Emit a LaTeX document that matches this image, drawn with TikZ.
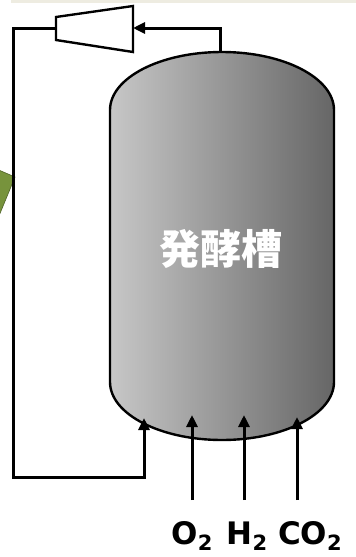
\documentclass[tikz,border=0pt]{standalone}
\usepackage{fontspec}
\newfontfamily\cjk{Noto Sans CJK JP}
\newfontfamily\gasfont{DejaVu Sans}
\usetikzlibrary{arrows.meta}
\definecolor{band}{HTML}{EEECE1}
\definecolor{leaf}{HTML}{77933C}
\definecolor{leafedge}{HTML}{4F6228}
\newcommand\gas[1]{#1\raisebox{-0.22em}{\fontsize{21}{21}\selectfont 2}}

\begin{document}
\begin{tikzpicture}
    [x=1pt,y=-1pt,
     pipe/.style={line width=3pt},
     feed/.style={pipe,-{Triangle[length=12pt,width=11pt]}},
     gaslabel/.style={anchor=base,inner sep=1pt,font=\gasfont\bfseries\fontsize{31}{31}\selectfont}]
\useasboundingbox (0,0) rectangle (356,557);
\clip (0,0) rectangle (356,557);
\fill [band] (11,0) rectangle (356,3);
\filldraw [fill=leaf,draw=leafedge,line width=0.6pt]
    (-6,168) -- (15,177) -- (-6,228) -- cycle;

% fermenter
\shadedraw
    [left color=black!22,right color=black!60,line width=2.4pt]
    (110,382) -- (110,110)
    arc [start angle=180,end angle=360,x radius=112,y radius=58]
    -- (334,382)
    arc [start angle=0,end angle=180,x radius=112,y radius=58]
    -- cycle;
\path
    (221,249) node [text=white,font=\cjk\bfseries\fontsize{41}{41}\selectfont] (tank) {発酵槽}
    (220,52) coordinate (tank top)
    (144,418) coordinate (return)
    (192,415) coordinate (o2 in)
    (244,415) coordinate (h2 in)
    (297,417) coordinate (co2 in);

% compressor
\draw [line width=2.4pt]
    (56,17) -- (133,6) -- (133,52) -- (56,40) -- cycle;
\path
    (56,28) coordinate (comp in)
    (133,28) coordinate (comp out);

% gas loop
\draw [feed] (tank top) |- (comp out);
\draw [feed] (comp in) -- (13,28) -- (13,477) -| (return);

% gas feeds
\path
    (192,544) node [gaslabel] (o2) {\gas{O}}
    (247,544) node [gaslabel] (h2) {\gas{H}}
    (310,544) node [gaslabel] (co2) {\gas{CO}};
\draw [feed] (192,500) -- (o2 in);
\draw [feed] (244,500) -- (h2 in);
\draw [feed] (297,500) -- (co2 in);
\end{tikzpicture}
\end{document}
